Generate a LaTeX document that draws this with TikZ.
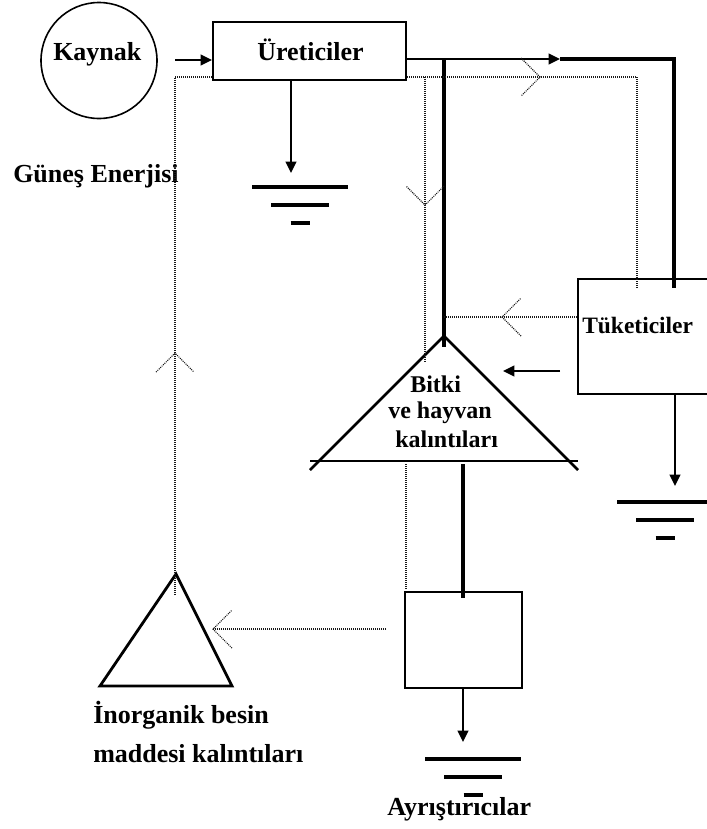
\documentclass[tikz,border=0pt]{standalone}
\usepackage{fontspec}
\setmainfont{Liberation Serif}
\usetikzlibrary{arrows.meta}
\begin{document}
\begin{tikzpicture}[x=0.75pt,y=-0.75pt,
  box/.style={draw, line width=1.6pt, rectangle, inner sep=0pt},
  circ/.style={draw, line width=1.2pt, circle, inner sep=0pt, minimum size=116*0.75pt},
  lbl/.style={font=\bfseries\fontsize{19.5}{23}\selectfont, inner sep=0pt, anchor=base west},
  slbl/.style={font=\bfseries\fontsize{18}{21}\selectfont, inner sep=0pt, anchor=base west},
  thickline/.style={line width=2.3pt},
  arr/.style={line width=1.5pt, -{Triangle[length=8.5pt,width=8pt]}},
  dotline/.style={line width=0.8pt, black!90, dash pattern=on 0.75pt off 0.75pt},
  gline/.style={line width=2.3pt},
  tri/.style={line width=2.1pt, line join=miter},
  chev/.pic={\draw[dotline] (-19,-19) -- (0,0) -- (-19,19);},
  ground/.pic={\draw[gline] (-48,0) -- (48,0) (-29,18) -- (29,18) (-9.5,36) -- (9.5,36);}
]
\useasboundingbox (0,0) rectangle (707,829);
\clip (0,0) rectangle (707,829);

% nodes
\node[circ] (kaynak) at (99,60.5) {};
\node[lbl] (tkaynak) at (53,60) {Kaynak};
\node[box, minimum width=193*0.75pt, minimum height=58*0.75pt] (uret) at (309.5,51) {};
\node[lbl] (turet) at (257,60) {Üreticiler};
\node[lbl] (tgunes) at (13,182) {Güneş Enerjisi};
\node[box, line width=2pt, minimum width=162*0.75pt, minimum height=115*0.75pt] (tuk) at (659,336.5) {};
\node[slbl, font=\bfseries\fontsize{17.6}{21}\selectfont] (ttuk) at (582,333) {Tüketiciler};
\node[box, line width=2pt, minimum width=117*0.75pt, minimum height=96*0.75pt] (ayr) at (463.5,640) {};
\node[slbl] (tb1) at (410,392) {Bitki};
\node[slbl] (tb2) at (388,418) {ve hayvan};
\node[slbl] (tb3) at (395,447) {kalıntıları};
\node[lbl] (tin1) at (93,723) {İnorganik besin};
\node[lbl] (tin2) at (93,762) {maddesi kalıntıları};
\node[lbl] (tayr) at (387,815) {Ayrıştırıcılar};

% coordinates
\coordinate (kout) at (175,60);
\coordinate (g1) at (291,173);
\coordinate (tmid) at (560,59);
\coordinate (tr) at (674,59);
\coordinate (trb) at (674,288);
\coordinate (vtop) at (444,59);
\coordinate (vbot) at (444,347);
\coordinate (bap) at (444,336);
\coordinate (bl) at (310,470);
\coordinate (br) at (578,470);
\coordinate (bbl) at (310,461);
\coordinate (bbr) at (578,461);
\coordinate (iap) at (176,574);
\coordinate (ibl) at (100,686);
\coordinate (ibr) at (232,686);
\coordinate (iside) at (213,629);

% Bitki triangle
\draw[tri] (bl) -- (bap) -- (br);
\draw[tri] (bbl) -- (bbr);
% Inorganic triangle
\draw[tri] (iap) -- (ibl) -- (ibr) -- cycle;

% solid connectors
\draw[arr] (kout) -- (kout -| uret.west);
\draw[arr] (g1 |- uret.south) -- (g1);
\pic at (300,187) {ground};
\draw[arr] (tmid -| uret.east) -- (tmid);
\draw[thickline] (tmid) -- (tr) -- (trb);
\draw[thickline] (vtop) -- (vbot);
\draw[arr] (560,371) -- (503,371);
\draw[thickline] (463,464) -- (463,598);
\draw[arr] (ayr.south -| 463,0) -- (463,742);
\pic at (473,759) {ground};
\draw[arr] (tuk.south -| 675,0) -- (675,486);
\pic at (665,502) {ground};

% dotted flows
\draw[dotline] (175,595) -- (175,77) -- (uret.west |- 0,77);
\pic[rotate=90] at (175,353) {chev};
\draw[dotline] (uret.east |- 0,77) -- (637,77) -- (637,288);
\pic at (540,77) {chev};
\draw[dotline] (425,77) -- (425,363);
\pic[rotate=-90] at (425,205) {chev};
\draw[dotline] (tuk.west |- 0,317) -- (444,317);
\pic[rotate=180] at (502,317) {chev};
\draw[dotline] (406,464) -- (406,590);
\draw[dotline] (386,629) -- (iside);
\pic[rotate=180] at (iside) {chev};
\end{tikzpicture}
\end{document}
